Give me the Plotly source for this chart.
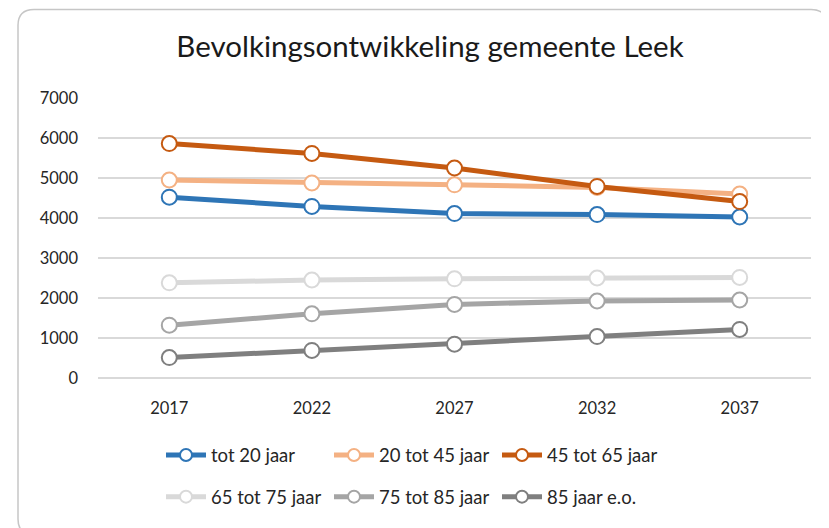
import plotly.graph_objects as go

years = ["2017", "2022", "2027", "2032", "2037"]
tot_20 = [4520, 4290, 4110, 4085, 4025]
van_20_45 = [4950, 4875, 4830, 4765, 4600]
van_45_65 = [5860, 5615, 5250, 4790, 4410]
van_65_75 = [2380, 2450, 2480, 2500, 2515]
van_75_85 = [1320, 1605, 1840, 1925, 1950]
vanaf_85 = [510, 690, 845, 1035, 1215]

series = [
    ("tot 20 jaar", tot_20, "#2E75B6", "legend"),
    ("20 tot 45 jaar", van_20_45, "#F4B183", "legend"),
    ("45 tot 65 jaar", van_45_65, "#C55A11", "legend"),
    ("65 tot 75 jaar", van_65_75, "#D9D9D9", "legend2"),
    ("75 tot 85 jaar", van_75_85, "#A5A5A5", "legend2"),
    ("85 jaar e.o.", vanaf_85, "#7F7F7F", "legend2"),
]

FONT = "Lato"
OFF = 8  # page body margin
W, H = 821, 520
L, R, T, B = 90, 18, 90, 148
pw, ph = W - L - R, H - T - B

fig = go.Figure()
for name, vals, col, lg in series:
    fig.add_trace(go.Scatter(
        x=years, y=vals, name=name, mode="lines+markers",
        line=dict(color=col, width=5),
        marker=dict(symbol="circle", size=15, color="white",
                    line=dict(color=col, width=2)),
        legend=lg,
    ))

def px(sx):
    return (sx - OFF - L) / pw

def py(sy):
    return (H - B - (sy - OFF)) / ph

# rounded chart border (screen pixel positions)
x0, y0, x1, y1, r = 18, 8.8, 827, 538, 16
path = (f"M{px(x0 + r)},{py(y0)} L{px(x1 - r)},{py(y0)} "
        f"Q{px(x1)},{py(y0)} {px(x1)},{py(y0 + r)} "
        f"L{px(x1)},{py(y1 - r)} Q{px(x1)},{py(y1)} {px(x1 - r)},{py(y1)} "
        f"L{px(x0 + r)},{py(y1)} Q{px(x0)},{py(y1)} {px(x0)},{py(y1 - r)} "
        f"L{px(x0)},{py(y0 + r)} Q{px(x0)},{py(y0)} {px(x0 + r)},{py(y0)} Z")
fig.add_shape(type="path", path=path, xref="paper", yref="paper",
              line=dict(color="#C6C6C6", width=1.5), layer="below")

legend_common = dict(orientation="h", xanchor="left", yanchor="middle",
                     xref="paper", yref="paper",
                     font=dict(family=FONT, size=18.5, color="#262626"),
                     itemwidth=40, itemsizing="constant",
                     entrywidthmode="pixels", entrywidth=113,
                     bgcolor="rgba(0,0,0,0)", itemclick=False)

fig.update_layout(
    width=W, height=H, autosize=False,
    margin=dict(l=L, r=R, t=T, b=B),
    paper_bgcolor="white", plot_bgcolor="white",
    font=dict(family=FONT, size=15, color="#262626"),
    title=dict(text="Bevolkingsontwikkeling gemeente Leek",
               x=(430 - OFF) / W, xref="container", xanchor="center",
               y=1 - (47 - OFF) / H, yref="container", yanchor="middle",
               font=dict(family=FONT, size=29.5, color="#1a1a1a")),
    xaxis=dict(type="category", range=[-0.5, 4.5], showgrid=False,
               showline=False, zeroline=False, ticks="",
               ticklabelstandoff=18, tickfont=dict(size=16.5)),
    yaxis=dict(range=[0, 7000], dtick=1000, showgrid=True,
               gridcolor="#D9D9D9", gridwidth=1.5, zeroline=True,
               zerolinecolor="#D9D9D9", zerolinewidth=1.5, showline=False,
               ticks="", ticklabelstandoff=19, tickfont=dict(size=16.5)),
    legend=dict(x=px(161), y=py(458), **legend_common),
    legend2=dict(x=px(161), y=py(500), **legend_common),
    showlegend=True,
)

fig.write_html("out.html")
